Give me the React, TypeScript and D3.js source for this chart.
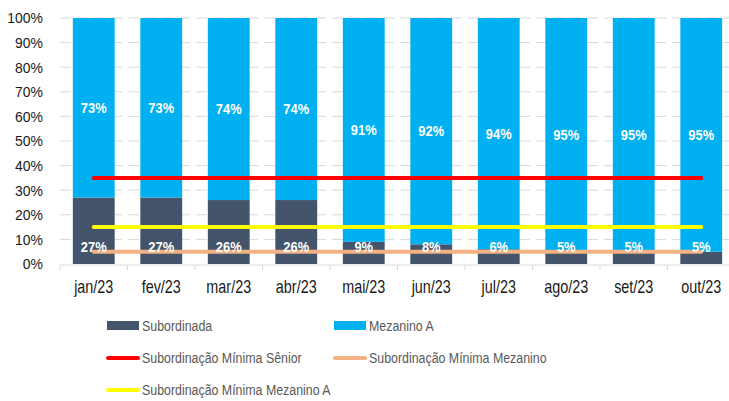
import React from 'react';
import * as d3 from 'd3';

const months = ['jan/23', 'fev/23', 'mar/23', 'abr/23', 'mai/23', 'jun/23', 'jul/23', 'ago/23', 'set/23', 'out/23'];
const subordinada = [27, 27, 26, 26, 9, 8, 6, 5, 5, 5];
const mezaninoA = [73, 73, 74, 74, 91, 92, 94, 95, 95, 95];
const minSenior = [35, 35, 35, 35, 35, 35, 35, 35, 35, 35];
const minMezanino = [5, 5, 5, 5, 5, 5, 5, 5, 5, 5];
const minMezaninoA = [15, 15, 15, 15, 15, 15, 15, 15, 15, 15];
const yTicks = [0, 10, 20, 30, 40, 50, 60, 70, 80, 90, 100];

const C_SUB = '#44546a';
const C_MEZ = '#00b0f0';
const C_RED = '#ff0000';
const C_ORANGE = '#f4b183';
const C_YELLOW = '#ffff00';

const FONT = "'Liberation Sans', Arial, sans-serif";

// narrow-looking text: horizontally squeezed Liberation Sans
function NText(props: { x: number; y: number; sx: number; anchor?: string; size: number; fill: string; bold?: boolean; dy?: string; children: React.ReactNode }) {
  const { x, y, sx, anchor = 'start', size, fill, bold, dy = '0.35em', children } = props;
  return (
    <text transform={`translate(${x},${y}) scale(${sx},1)`} dy={dy} textAnchor={anchor}
      fontFamily={FONT} fontSize={size} fontWeight={bold ? 'bold' : 'normal'} fill={fill}>
      {children}
    </text>
  );
}

export default function App() {
  const W = 729, H = 401;
  const x = d3.scaleBand<string>().domain(months).range([60, 735]).paddingInner(0.38).paddingOuter(0.19);
  const y = d3.scaleLinear().domain([0, 100]).range([264, 18]);
  const cx = (m: string) => (x(m) as number) + x.bandwidth() / 2;
  const line = d3.line<number>().x((_, i) => cx(months[i])).y(d => y(d));
  const step = x.step();
  const x0 = 60;

  const lines = [
    { data: minSenior, color: C_RED },
    { data: minMezaninoA, color: C_YELLOW },
    { data: minMezanino, color: C_ORANGE },
  ];

  const legend = [
    { label: 'Subordinada', kind: 'rect', color: C_SUB, x: 107, y: 326 },
    { label: 'Mezanino A', kind: 'rect', color: C_MEZ, x: 334, y: 326 },
    { label: 'Subordinação Mínima Sênior', kind: 'line', color: C_RED, x: 107, y: 358 },
    { label: 'Subordinação Mínima Mezanino', kind: 'line', color: C_ORANGE, x: 334, y: 358 },
    { label: 'Subordinação Mínima Mezanino A', kind: 'line', color: C_YELLOW, x: 107, y: 390 },
  ];

  return (
    <svg width={W} height={H} style={{ position: 'absolute', left: 0, top: 0, background: '#fff' }}>
      {/* grid */}
      {yTicks.filter(t => t > 0).map(t => (
        <line key={t} x1={x0} x2={W} y1={y(t)} y2={y(t)} stroke="#d9d9d9" strokeWidth={1} strokeDasharray="11,6" />
      ))}
      {/* y tick labels */}
      {yTicks.map(t => (
        <NText key={t} x={43} y={y(t)} sx={0.9} anchor="end" size={15.5} fill="#1a1a1a">{t}%</NText>
      ))}
      {/* bars */}
      {months.map((m, i) => (
        <g key={m}>
          <rect x={x(m)} width={x.bandwidth()} y={y(subordinada[i])} height={y(0) - y(subordinada[i])} fill={C_SUB} />
          <rect x={x(m)} width={x.bandwidth()} y={y(subordinada[i] + mezaninoA[i])} height={y(subordinada[i]) - y(subordinada[i] + mezaninoA[i])} fill={C_MEZ} />
        </g>
      ))}
      {/* x axis */}
      <line x1={x0} x2={W} y1={265} y2={265} stroke="#d9d9d9" strokeWidth={1} />
      {months.map((m, i) => (
        <line key={m} x1={x0 + i * step} x2={x0 + i * step} y1={265} y2={270} stroke="#d9d9d9" strokeWidth={1} />
      ))}
      {months.map(m => (
        <NText key={m} x={cx(m)} y={293} dy="0" sx={0.8} anchor="middle" size={18} fill="#1a1a1a">{m}</NText>
      ))}
      {/* lines */}
      {lines.map((l, k) => (
        <path key={k} d={line(l.data) as string} fill="none" stroke={l.color} strokeWidth={4} strokeLinecap="round" />
      ))}
      {/* data labels */}
      {months.map((m, i) => (
        <g key={m}>
          <NText x={cx(m)} y={(y(subordinada[i]) + y(100)) / 2} sx={0.86} anchor="middle" size={15} fill="#fff" bold>{mezaninoA[i]}%</NText>
          <NText x={cx(m)} y={y(0) - 17} sx={0.86} anchor="middle" size={15} fill="#fff" bold>{subordinada[i]}%</NText>
        </g>
      ))}
      {/* legend */}
      {legend.map(l => (
        <g key={l.label}>
          {l.kind === 'rect' ? (
            <rect x={l.x} y={l.y - 5} width={32} height={9} fill={l.color} />
          ) : (
            <line x1={l.x + 1} x2={l.x + 31} y1={l.y} y2={l.y} stroke={l.color} strokeWidth={4} strokeLinecap="round" />
          )}
          <NText x={l.x + 35} y={l.y} sx={0.8} size={15.5} fill="#595959">{l.label}</NText>
        </g>
      ))}
    </svg>
  );
}
